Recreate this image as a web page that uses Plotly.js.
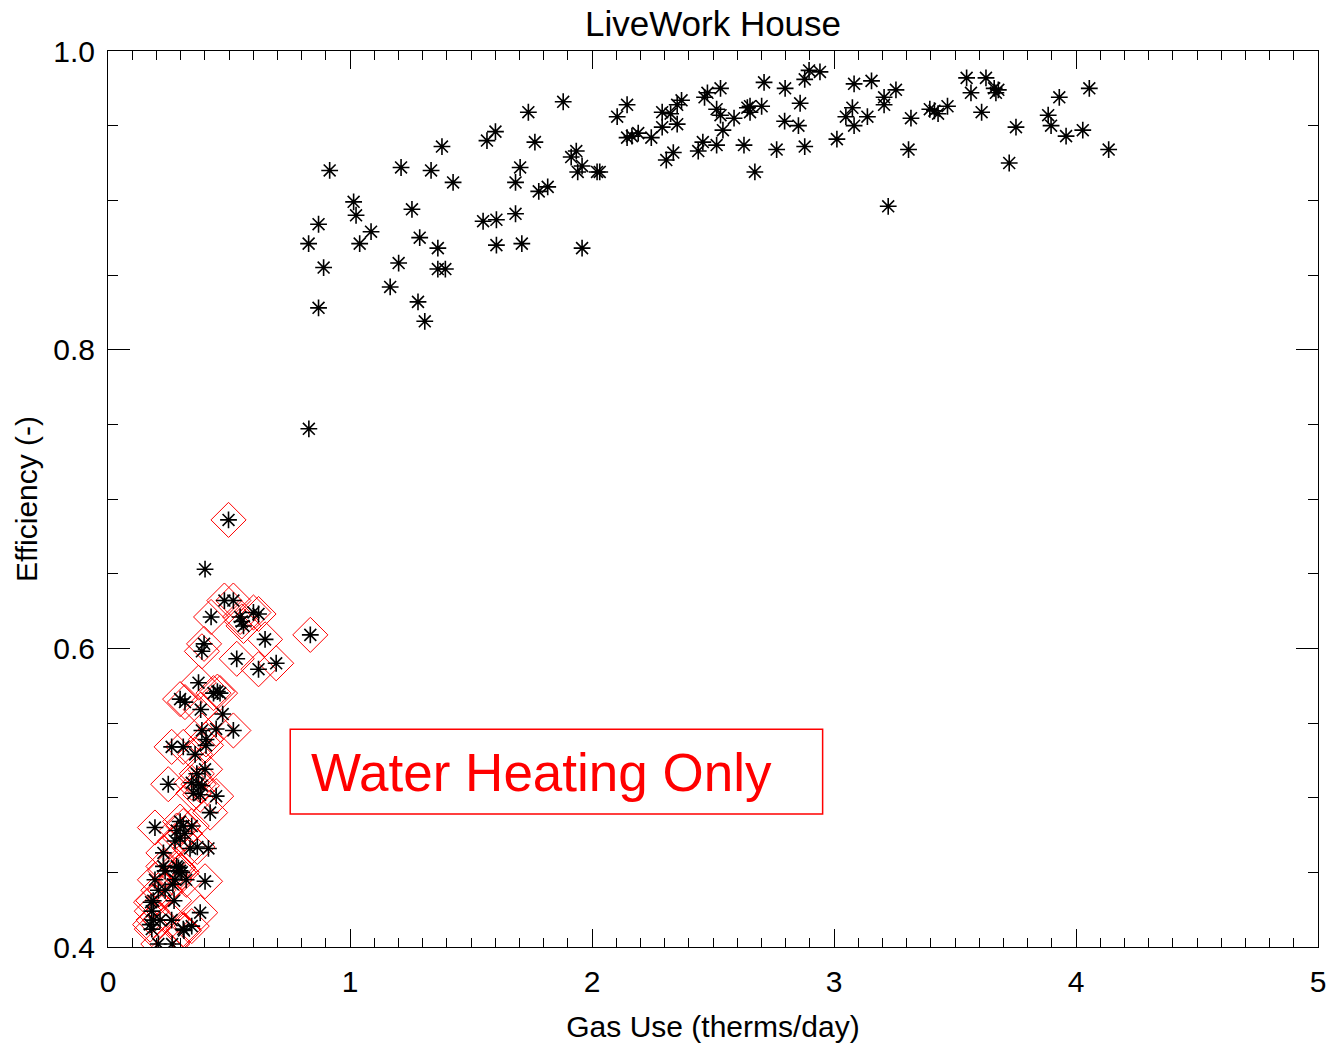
<!DOCTYPE html>
<html>
<head>
<meta charset="utf-8">
<script src="https://cdn.plot.ly/plotly-3.0.1.min.js"></script>
<style>
  html, body { margin: 0; padding: 0; background: #ffffff; }
  #chart { width: 1330px; height: 1046px; }
</style>
</head>
<body>
<div id="chart"></div>
<script>
// Space + water heating days (asterisks only)
const heatingGas = [
  0.916, 1.601, 1.566, 1.380, 1.211, 1.335, 1.426, 1.015, 1.025, 1.256,
  0.870, 1.550, 1.605, 0.829, 1.040, 1.087, 1.288, 1.363, 1.605, 0.891,
  1.201, 1.363, 1.394, 1.166, 0.870, 1.281, 1.309, 0.830, 1.737, 1.881,
  1.764, 1.703, 1.684, 1.780, 1.817, 1.684, 1.710, 1.959, 1.914, 1.935,
  1.959, 1.941, 2.021, 2.032, 2.104, 2.145, 2.145, 2.165, 2.191, 2.245,
  2.290, 2.325, 2.290, 2.352, 2.370, 2.352, 2.307, 2.336, 2.439, 2.458,
  2.515, 2.465, 2.477, 2.531, 2.515, 2.531, 2.587, 2.541, 2.642, 2.653,
  2.701, 2.653, 2.711, 2.628, 2.673, 2.798, 2.860, 2.796, 2.853, 2.763,
  2.879, 2.897, 2.942, 2.879, 3.012, 3.083, 3.155, 3.076, 3.049, 3.083,
  3.138, 3.207, 3.207, 3.256, 3.224, 3.318, 3.308, 3.396, 3.430, 3.469,
  3.548, 3.566, 3.628, 3.662, 3.679, 3.669, 3.610, 3.752, 3.724, 3.885,
  3.897, 3.931, 3.959, 4.028, 4.055, 4.135, 3.415
];
const heatingEff = [
  0.920, 0.946, 0.940, 0.936, 0.922, 0.920, 0.912, 0.899, 0.890, 0.894,
  0.884, 0.886, 0.887, 0.871, 0.871, 0.879, 0.875, 0.868, 0.870, 0.855,
  0.858, 0.854, 0.854, 0.842, 0.828, 0.832, 0.819, 0.747, 0.959, 0.966,
  0.939, 0.922, 0.912, 0.906, 0.909, 0.891, 0.871, 0.868, 0.929, 0.933,
  0.923, 0.919, 0.919, 0.919, 0.956, 0.964, 0.942, 0.943, 0.945, 0.942,
  0.959, 0.958, 0.949, 0.964, 0.967, 0.951, 0.927, 0.932, 0.933, 0.939,
  0.937, 0.969, 0.972, 0.975, 0.961, 0.957, 0.955, 0.947, 0.962, 0.963,
  0.963, 0.959, 0.979, 0.937, 0.919, 0.975, 0.965, 0.953, 0.950, 0.934,
  0.981, 0.987, 0.986, 0.936, 0.941, 0.978, 0.980, 0.962, 0.956, 0.950,
  0.956, 0.969, 0.964, 0.974, 0.896, 0.955, 0.934, 0.961, 0.958, 0.963,
  0.982, 0.972, 0.982, 0.975, 0.974, 0.972, 0.959, 0.949, 0.925, 0.957,
  0.950, 0.969, 0.943, 0.947, 0.975, 0.934, 0.960
];
// Water heating only days (asterisk + red diamond)
const waterGas = [
  0.498, 0.481, 0.518, 0.426, 0.546, 0.601, 0.622, 0.560, 0.553, 0.649,
  0.397, 0.388, 0.836, 0.532, 0.622, 0.695, 0.374, 0.452, 0.436, 0.463,
  0.298, 0.318, 0.383, 0.388, 0.447, 0.518, 0.405, 0.405, 0.263, 0.311,
  0.360, 0.401, 0.367, 0.249, 0.346, 0.374, 0.388, 0.353, 0.381, 0.447,
  0.422, 0.194, 0.298, 0.311, 0.284, 0.318, 0.298, 0.346, 0.277, 0.369,
  0.339, 0.229, 0.229, 0.284, 0.291, 0.305, 0.194, 0.277, 0.323, 0.401,
  0.236, 0.268, 0.208, 0.273, 0.178, 0.181, 0.381, 0.188, 0.215, 0.263,
  0.181, 0.346, 0.314, 0.311, 0.174, 0.208, 0.265, 0.298, 0.236, 0.187
];
const waterEff = [
  0.686, 0.632, 0.632, 0.621, 0.621, 0.624, 0.623, 0.615, 0.618, 0.606,
  0.603, 0.598, 0.609, 0.593, 0.586, 0.590, 0.577, 0.571, 0.570, 0.570,
  0.566, 0.564, 0.559, 0.545, 0.546, 0.545, 0.539, 0.535, 0.534, 0.534,
  0.529, 0.519, 0.516, 0.509, 0.510, 0.509, 0.508, 0.503, 0.502, 0.501,
  0.490, 0.480, 0.484, 0.481, 0.478, 0.476, 0.473, 0.481, 0.471, 0.467,
  0.466, 0.463, 0.454, 0.454, 0.453, 0.450, 0.445, 0.445, 0.445, 0.444,
  0.438, 0.442, 0.438, 0.431, 0.430, 0.424, 0.423, 0.418, 0.418, 0.418,
  0.412, 0.414, 0.411, 0.412, 0.415, 0.402, 0.402, 0.451, 0.451, 0.431
];
// Low-load days without the water-heating marker
const otherGas = [0.401, 0.474, 0.415];
const otherEff = [0.653, 0.556, 0.466];

const chartTitle = "LiveWork House";
const xTitle = "Gas Use (therms/day)";
const yTitle = "Efficiency (-)";
const boxLabel = "Water Heating Only";

const font = "Liberation Sans, Arial, Helvetica, sans-serif";

const traces = [
  {
    type: "scatter", mode: "markers",
    x: waterGas, y: waterEff,
    marker: { symbol: "diamond-open", size: 27, color: "#ff0000", line: { color: "#ff0000", width: 1 } },
    hoverinfo: "x+y", showlegend: false
  },
  {
    type: "scatter", mode: "markers",
    x: heatingGas.concat(waterGas, otherGas),
    y: heatingEff.concat(waterEff, otherEff),
    marker: { symbol: "asterisk-open", size: 14, color: "#000000", line: { color: "#000000", width: 1.6 } },
    hoverinfo: "x+y", showlegend: false
  }
];

const axisCommon = {
  showgrid: false, zeroline: false,
  showline: true, linecolor: "#000000", linewidth: 1,
  mirror: "allticks", ticks: "inside", tickcolor: "#000000", tickwidth: 1,
  tickfont: { family: font, size: 30, color: "#000000" }
};

const layout = {
  width: 1330, height: 1046,
  paper_bgcolor: "#ffffff", plot_bgcolor: "#ffffff",
  margin: { l: 108, r: 12, t: 51, b: 99 },
  title: {
    text: chartTitle, font: { family: font, size: 35, color: "#000000" },
    x: 0.5, xref: "paper", y: 0.977, yref: "container", yanchor: "middle"
  },
  xaxis: Object.assign({}, axisCommon, {
    range: [0, 5], dtick: 1, tick0: 0, ticklen: 18,
    minor: { dtick: 0.1, ticks: "inside", ticklen: 9, tickcolor: "#000000" },
    ticklabelstandoff: 8,
    title: { text: xTitle, font: { family: font, size: 30, color: "#000000" }, standoff: 18 }
  }),
  yaxis: Object.assign({}, axisCommon, {
    range: [0.4, 1.0], dtick: 0.2, tick0: 0.4, ticklen: 22, tickformat: ".1f",
    minor: { dtick: 0.05, ticks: "inside", ticklen: 10, tickcolor: "#000000" },
    ticklabelstandoff: 6,
    title: { text: yTitle, font: { family: font, size: 30, color: "#000000" }, standoff: 6 }
  }),
  shapes: [
    { type: "rect", xref: "x", yref: "y", x0: 0.753, x1: 2.953, y0: 0.489, y1: 0.5458,
      line: { color: "#ff0000", width: 1.5 }, fillcolor: "rgba(0,0,0,0)" }
  ],
  annotations: [
    { xref: "x", yref: "y", x: 0.832, y: 0.517, xanchor: "left", yanchor: "middle",
      text: boxLabel, showarrow: false,
      font: { family: font, size: 53, color: "#ff0000" } }
  ]
};

Plotly.newPlot("chart", traces, layout, { displayModeBar: false, staticPlot: true });
</script>
</body>
</html>
